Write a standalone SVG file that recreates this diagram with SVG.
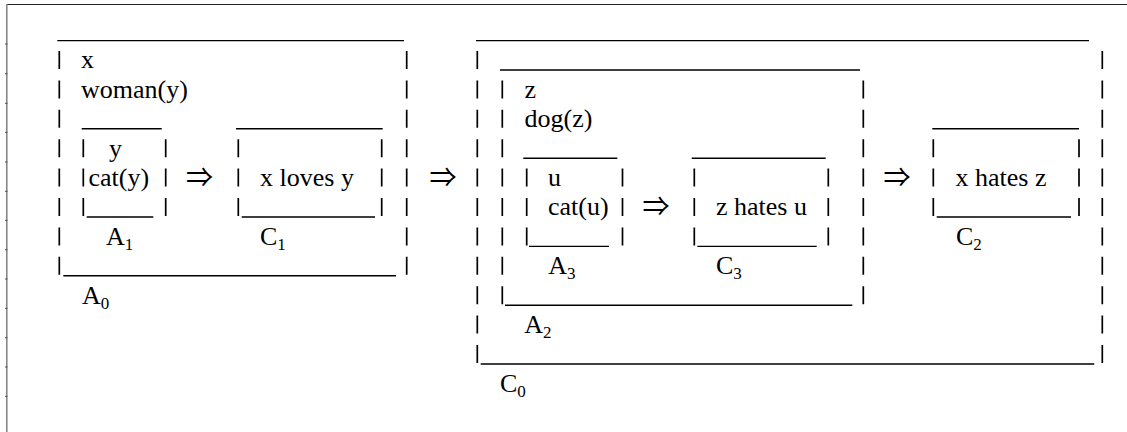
<svg xmlns="http://www.w3.org/2000/svg" width="1127" height="432" viewBox="0 0 1127 432">
<style>
.t{font-family:"Liberation Serif","Times New Roman",serif;font-size:26px;fill:#000}
.s{font-size:17px}
.ar{font-family:"Noto Sans CJK JP","DejaVu Serif",serif;font-size:27px;fill:#000}
.p{stroke:#000;stroke-width:1.7;fill:none}
.u{stroke:#000;stroke-width:1.4;fill:none}
</style>
<rect width="1127" height="432" fill="#fff"/>
<g id="frame">
<line x1="6" y1="4.5" x2="1127" y2="4.5" stroke="#222" stroke-width="1.2"/>
<line x1="6.8" y1="4" x2="6.8" y2="432" stroke="#888" stroke-width="1.6"/>
<path d="M5 44h2.5M5 73.7h2.5M5 103.3h2.5M5 132.3h2.5M5 162h2.5M5 191.3h2.5M5 220.3h2.5M5 249.7h2.5M5 279h2.5M5 308.3h2.5M5 337.7h2.5M5 367h2.5M5 396.3h2.5" stroke="#555" stroke-width="1"/>
</g>
<g id="A0">
<path class="u" d="M57.3 40.6H404M63.3 275.8H396"/>
<path class="p" d="M59.3 51v18M59.3 80.4v18M59.3 109.8v18M59.3 139.2v18M59.3 168.6v18M59.3 198v18M59.3 227.4v18M59.3 256.8v18M406.7 51v18M406.7 80.4v18M406.7 109.8v18M406.7 139.2v18M406.7 168.6v18M406.7 198v18M406.7 227.4v18M406.7 256.8v18"/>
<text class="t" x="81" y="68.3">x</text>
<text class="t" x="81" y="97.7">woman(y)</text>
<text class="t" x="82" y="303.5">A<tspan class="s" dy="5">0</tspan></text>
</g>
<g id="A1">
<path class="u" d="M81.7 128.8H161.7M86.7 217H153.3"/>
<path class="p" d="M83.3 139.2v18M83.3 168.6v18M83.3 198v18M165.7 139.2v18M165.7 168.6v18M165.7 198v18"/>
<text class="t" x="109" y="156.5">y</text>
<text class="t" x="88.5" y="185.9">cat(y)</text>
<text class="t" x="106" y="244.7">A<tspan class="s" dy="5">1</tspan></text>
</g>
<g id="C1">
<path class="u" d="M236 128.8H382.7M241.7 217H375"/>
<path class="p" d="M238.3 139.2v18M238.3 168.6v18M238.3 198v18M381.7 139.2v18M381.7 168.6v18M381.7 198v18"/>
<text class="t" x="260" y="185.9">x loves y</text>
<text class="t" x="260" y="244.7">C<tspan class="s" dy="5">1</tspan></text>
</g>
<g id="C0">
<path class="u" d="M476 40.6H1089M480.7 364H1094.3"/>
<path class="p" d="M477.3 51v18M477.3 80.4v18M477.3 109.8v18M477.3 139.2v18M477.3 168.6v18M477.3 198v18M477.3 227.4v18M477.3 256.8v18M477.3 286.2v18M477.3 315.6v18M477.3 345v18M1102.3 51v18M1102.3 80.4v18M1102.3 109.8v18M1102.3 139.2v18M1102.3 168.6v18M1102.3 198v18M1102.3 227.4v18M1102.3 256.8v18M1102.3 286.2v18M1102.3 315.6v18M1102.3 345v18"/>
<text class="t" x="500" y="391.7">C<tspan class="s" dy="5">0</tspan></text>
</g>
<g id="A2">
<path class="u" d="M500 70H860M505 305.2H852.3"/>
<path class="p" d="M502.3 80.4v18M502.3 109.8v18M502.3 139.2v18M502.3 168.6v18M502.3 198v18M502.3 227.4v18M502.3 256.8v18M502.3 286.2v18M863.3 80.4v18M863.3 109.8v18M863.3 139.2v18M863.3 168.6v18M863.3 198v18M863.3 227.4v18M863.3 256.8v18M863.3 286.2v18"/>
<text class="t" x="524.5" y="97.7">z</text>
<text class="t" x="524.5" y="127.1">dog(z)</text>
<text class="t" x="524.3" y="332.9">A<tspan class="s" dy="5">2</tspan></text>
</g>
<g id="A3">
<path class="u" d="M523.3 158.2H617.3M529 246.4H609"/>
<path class="p" d="M526.7 168.6v18M526.7 198v18M526.7 227.4v18M622.5 168.6v18M622.5 198v18M622.5 227.4v18"/>
<text class="t" x="548" y="185.9">u</text>
<text class="t" x="548" y="215.3">cat(u)</text>
<text class="t" x="548.3" y="274.1">A<tspan class="s" dy="5">3</tspan></text>
</g>
<g id="C3">
<path class="u" d="M691.7 158.2H825.7M697.3 246.4H816.7"/>
<path class="p" d="M694.3 168.6v18M694.3 198v18M694.3 227.4v18M828.3 168.6v18M828.3 198v18M828.3 227.4v18"/>
<text class="t" x="716" y="215.3">z hates u</text>
<text class="t" x="716" y="274.1">C<tspan class="s" dy="5">3</tspan></text>
</g>
<g id="C2">
<path class="u" d="M932.3 128.8H1079M936.7 217H1071"/>
<path class="p" d="M933.3 139.2v18M933.3 168.6v18M933.3 198v18M1079 139.2v18M1079 168.6v18M1079 198v18"/>
<text class="t" x="955.5" y="185.9">x hates z</text>
<text class="t" x="956" y="244.7">C<tspan class="s" dy="5">2</tspan></text>
</g>
<g id="connectors">
<text class="ar" x="186" y="186.5">⇒</text>
<text class="ar" x="429.5" y="186.5">⇒</text>
<text class="ar" x="642.5" y="215.9">⇒</text>
<text class="ar" x="883.5" y="186.5">⇒</text>
</g>
</svg>
